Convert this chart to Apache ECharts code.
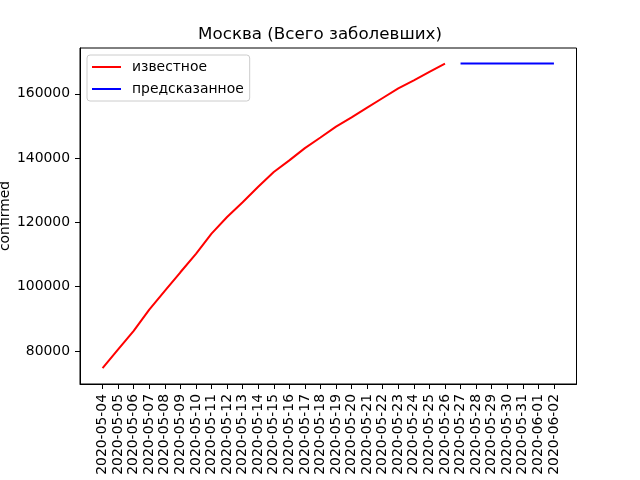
<!DOCTYPE html>
<html>
<head>
<meta charset="utf-8">
<script src="https://cdn.jsdelivr.net/npm/echarts@6/dist/echarts.min.js"></script>
<style>
  html, body { margin: 0; padding: 0; background: #fff; }
  #chart { width: 640px; height: 480px; }
</style>
</head>
<body>
<div id="chart"></div>
<script>
// даты по оси X
const dates = [
  '2020-05-04', '2020-05-05', '2020-05-06', '2020-05-07', '2020-05-08',
  '2020-05-09', '2020-05-10', '2020-05-11', '2020-05-12', '2020-05-13',
  '2020-05-14', '2020-05-15', '2020-05-16', '2020-05-17', '2020-05-18',
  '2020-05-19', '2020-05-20', '2020-05-21', '2020-05-22', '2020-05-23',
  '2020-05-24', '2020-05-25', '2020-05-26', '2020-05-27', '2020-05-28',
  '2020-05-29', '2020-05-30', '2020-05-31', '2020-06-01', '2020-06-02'
]
// известное (05-04 .. 05-26)
const known = [
  74700, 80500, 86300, 92900, 98700, 104500, 110200, 116500, 121700, 126300,
  131100, 135700, 139300, 143100, 146400, 149800, 152700, 155700, 158700, 161700,
  164200, 166800, 169400
]
// предсказанное (05-27 .. 06-02)
const predicted = [169400, 169400, 169400, 169400, 169400, 169400, 169400]
const yTicks = [80000, 100000, 120000, 140000, 160000]

const font = 'DejaVu Sans'
const xTicks = dates.map((d, i) => i)

const chart = echarts.init(document.getElementById('chart'))
const option = {
  animation: false,
  backgroundColor: '#fff',
  title: {
    text: 'Москва (Всего заболевших)',
    left: 'center',
    top: 26,
    padding: 0,
    textStyle: { fontFamily: font, fontSize: 16.7, fontWeight: 'normal', color: '#000' }
  },
  legend: {
    orient: 'vertical',
    left: 87,
    top: 55,
    padding: [4, 6, 4, 5],
    itemGap: 6,
    itemWidth: 29,
    itemHeight: 2,
    icon: 'rect',
    backgroundColor: 'rgba(255,255,255,0.8)',
    borderColor: '#cccccc',
    borderWidth: 1,
    borderRadius: 3,
    textStyle: { fontFamily: font, fontSize: 13.9, color: '#000', lineHeight: 16, padding: [0, 0, 0, 6] },
    data: ['известное', 'предсказанное']
  },
  grid: {
    left: 80, right: 63.5, top: 48, bottom: 96,
    outerBoundsMode: 'none',
    show: true, borderColor: '#000', borderWidth: 1
  },
  xAxis: {
    type: 'value',
    min: -1.45,
    max: dates.length - 1 + 1.45,
    splitLine: { show: false },
    axisLine: { show: true, onZero: false, lineStyle: { color: '#000', width: 1 } },
    axisTick: { show: true, customValues: xTicks, length: 5, lineStyle: { color: '#000' } },
    axisLabel: {
      customValues: xTicks,
      rotate: 90,
      margin: 10,
      fontFamily: font,
      fontSize: 13.9,
      color: '#000',
      formatter: v => dates[v]
    }
  },
  yAxis: {
    type: 'value',
    min: 69750,
    max: 174250,
    name: 'confirmed',
    nameLocation: 'middle',
    nameGap: 68,
    nameMoveOverlap: false,
    nameTextStyle: { fontFamily: font, fontSize: 13.9, color: '#000' },
    splitLine: { show: false },
    axisLine: { show: true, onZero: false, lineStyle: { color: '#000', width: 1 } },
    axisTick: { show: true, customValues: yTicks, length: 5, lineStyle: { color: '#000' } },
    axisLabel: {
      customValues: yTicks,
      margin: 10,
      fontFamily: font,
      fontSize: 13.9,
      color: '#000',
      formatter: v => String(v)
    }
  },
  series: [
    {
      name: 'известное',
      type: 'line',
      showSymbol: false,
      color: '#ff0000',
      lineStyle: { width: 2, color: '#ff0000' },
      data: known.map((v, i) => [i, v])
    },
    {
      name: 'предсказанное',
      type: 'line',
      showSymbol: false,
      color: '#0000ff',
      lineStyle: { width: 2, color: '#0000ff' },
      data: predicted.map((v, j) => [known.length + j, v])
    }
  ]
}
chart.setOption(option)
</script>
</body>
</html>
